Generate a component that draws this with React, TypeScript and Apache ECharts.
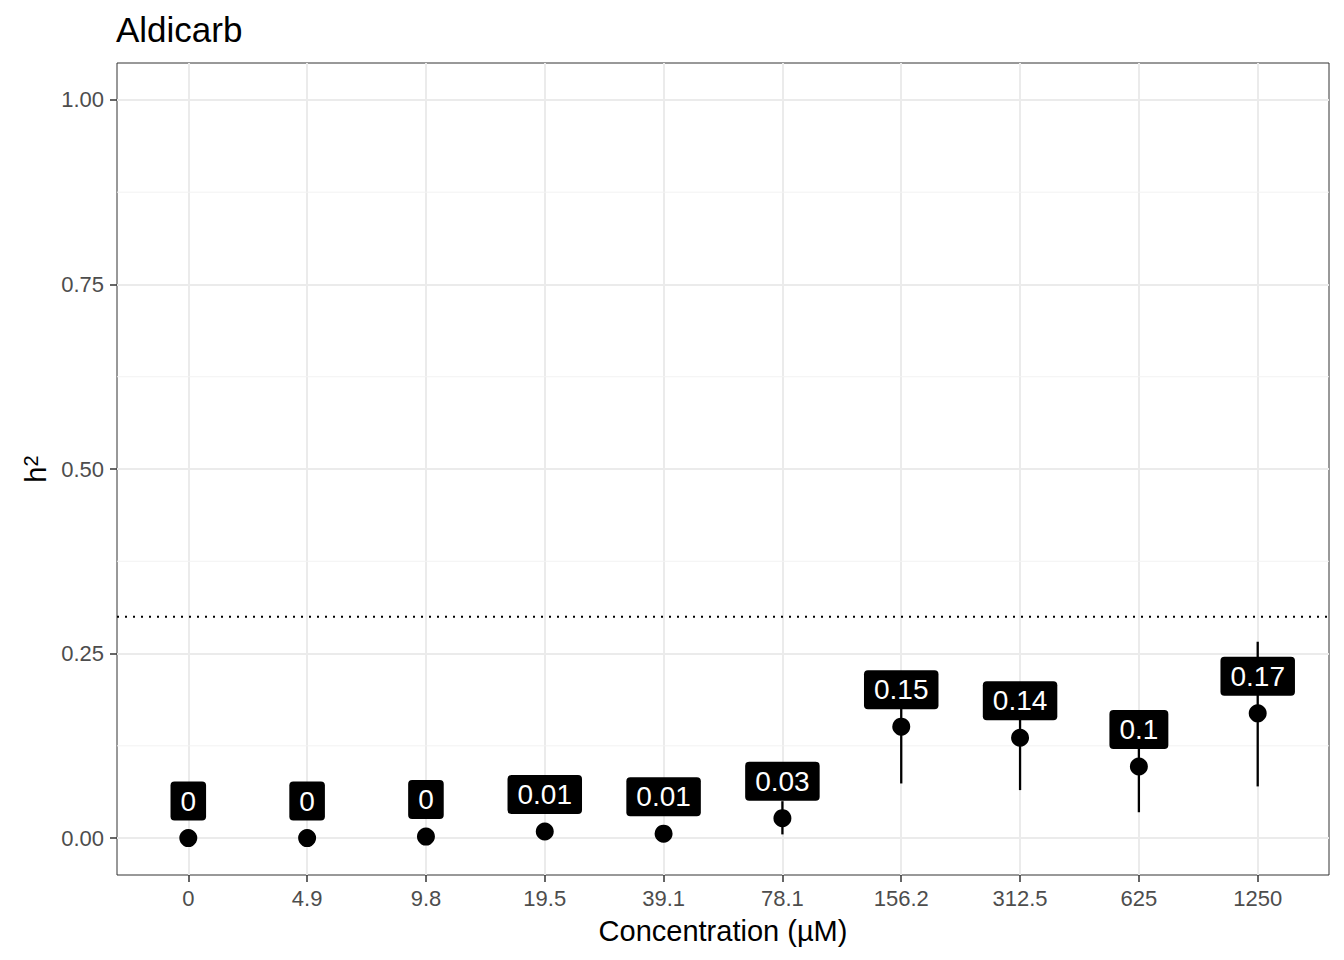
import React, { useEffect, useRef } from "react";
import * as echarts from "echarts";

const categories = ["0", "4.9", "9.8", "19.5", "39.1", "78.1", "156.2", "312.5", "625", "1250"];
const h2Values = [0.0, 0.0, 0.002, 0.009, 0.006, 0.027, 0.151, 0.136, 0.097, 0.169];
const lowerValues = [0.0, 0.0, 0.002, 0.009, 0.006, 0.005, 0.074, 0.065, 0.035, 0.07];
const upperValues = [0.0, 0.0, 0.002, 0.009, 0.006, 0.05, 0.19, 0.17, 0.13, 0.266];
const yTicks = [0, 0.25, 0.5, 0.75, 1];
const yMinorTicks = [0.125, 0.375, 0.625, 0.875];
const threshold = 0.3;

const FONT = "'Liberation Sans', Arial, Helvetica, sans-serif";

export default function App() {
  const ref = useRef<HTMLDivElement>(null);
  useEffect(() => {
    if (!ref.current) return;
    const chart = echarts.init(ref.current, undefined, { renderer: "svg" });
    const xIdx = categories.map((_, i) => i);
    const xMin = -0.6;
    const xMax = categories.length - 1 + 0.6;
    const option: any = {
      animation: false,
      backgroundColor: "#ffffff",
      textStyle: { fontFamily: FONT },
      title: {
        text: "Aldicarb",
        left: 111,
        top: 7,
        textStyle: { fontFamily: FONT, fontSize: 35, fontWeight: "normal", color: "#000" },
      },
      grid: {
        left: 117,
        right: 15,
        top: 63,
        bottom: 85,
        show: true,
        borderColor: "#333333",
        borderWidth: 1,
        backgroundColor: "transparent",
      },
      xAxis: {
        type: "value",
        min: xMin,
        max: xMax,
        name: "Concentration (µM)",
        nameLocation: "middle",
        nameGap: 41,
        nameTextStyle: { fontFamily: FONT, fontSize: 29, color: "#000" },
        axisLine: { show: false, onZero: false },
        axisTick: { show: true, customValues: xIdx, length: 7, lineStyle: { color: "#333", width: 1.5 } },
        axisLabel: {
          customValues: xIdx,
          formatter: (v: number) => categories[Math.round(v)] ?? "",
          fontFamily: FONT,
          fontSize: 22,
          color: "#4d4d4d",
          margin: 12,
        },
        splitLine: { show: true, lineStyle: { color: "#ebebeb", width: 2 } },
      },
      yAxis: {
        type: "value",
        min: -0.05,
        max: 1.05,
        name: "h{sup|2}",
        nameLocation: "middle",
        nameGap: 66,
        nameRotate: 90,
        nameTextStyle: {
          fontFamily: FONT,
          fontSize: 29,
          color: "#000",
          rich: { sup: { fontFamily: FONT, fontSize: 20, color: "#000", verticalAlign: "top", lineHeight: 18 } },
        },
        axisLine: { show: false, onZero: false },
        axisTick: { show: true, customValues: yTicks, length: 7, lineStyle: { color: "#333", width: 1.5 } },
        axisLabel: {
          customValues: yTicks,
          formatter: (v: number) => v.toFixed(2),
          fontFamily: FONT,
          fontSize: 22,
          color: "#4d4d4d",
          margin: 13,
        },
        splitLine: { show: true, lineStyle: { color: "#ebebeb", width: 2 } },
      },
      series: [
        {
          type: "custom",
          z: 1,
          silent: true,
          data: yMinorTicks.map((v) => [0, v]),
          encode: { x: 0, y: 1 },
          renderItem: (params: any, api: any) => {
            const v = api.value(1);
            const a = api.coord([xMin, v]);
            const b = api.coord([xMax, v]);
            return {
              type: "line",
              shape: { x1: a[0], y1: a[1], x2: b[0], y2: b[1] },
              style: { stroke: "#f2f2f2", lineWidth: 1 },
            };
          },
        },
        {
          type: "custom",
          z: 2,
          silent: true,
          data: [[0, threshold]],
          encode: { x: 0, y: 1 },
          renderItem: (params: any, api: any) => {
            const v = api.value(1);
            const a = api.coord([xMin, v]);
            const b = api.coord([xMax, v]);
            return {
              type: "line",
              shape: { x1: a[0], y1: a[1], x2: b[0], y2: b[1] },
              style: { stroke: "#000", lineWidth: 2, lineDash: [2, 6] },
            };
          },
        },
        {
          type: "custom",
          z: 3,
          silent: true,
          data: xIdx.map((i) => [i, lowerValues[i], upperValues[i]]),
          encode: { x: 0, y: [1, 2] },
          renderItem: (params: any, api: any) => {
            const a = api.coord([api.value(0), api.value(1)]);
            const b = api.coord([api.value(0), api.value(2)]);
            return {
              type: "line",
              shape: { x1: a[0], y1: a[1], x2: b[0], y2: b[1] },
              style: { stroke: "#000", lineWidth: 2.3 },
            };
          },
        },
        {
          type: "scatter",
          z: 4,
          symbol: "circle",
          symbolSize: 18,
          itemStyle: { color: "#000", opacity: 1 },
          data: xIdx.map((i) => [i, h2Values[i]]),
          label: {
            show: true,
            position: "inside",
            offset: [0, -37],
            formatter: (p: any) => String(Math.round(p.value[1] * 100) / 100),
            fontFamily: FONT,
            fontSize: 28,
            color: "#fff",
            backgroundColor: "#000",
            borderRadius: 4,
            padding: [6, 10, 5, 10],
          },
        },
      ],
    };
    chart.setOption(option);
    return () => chart.dispose();
  }, []);
  return <div ref={ref} style={{ width: 1344, height: 960, position: "absolute", left: 0, top: 0 }} />;
}
